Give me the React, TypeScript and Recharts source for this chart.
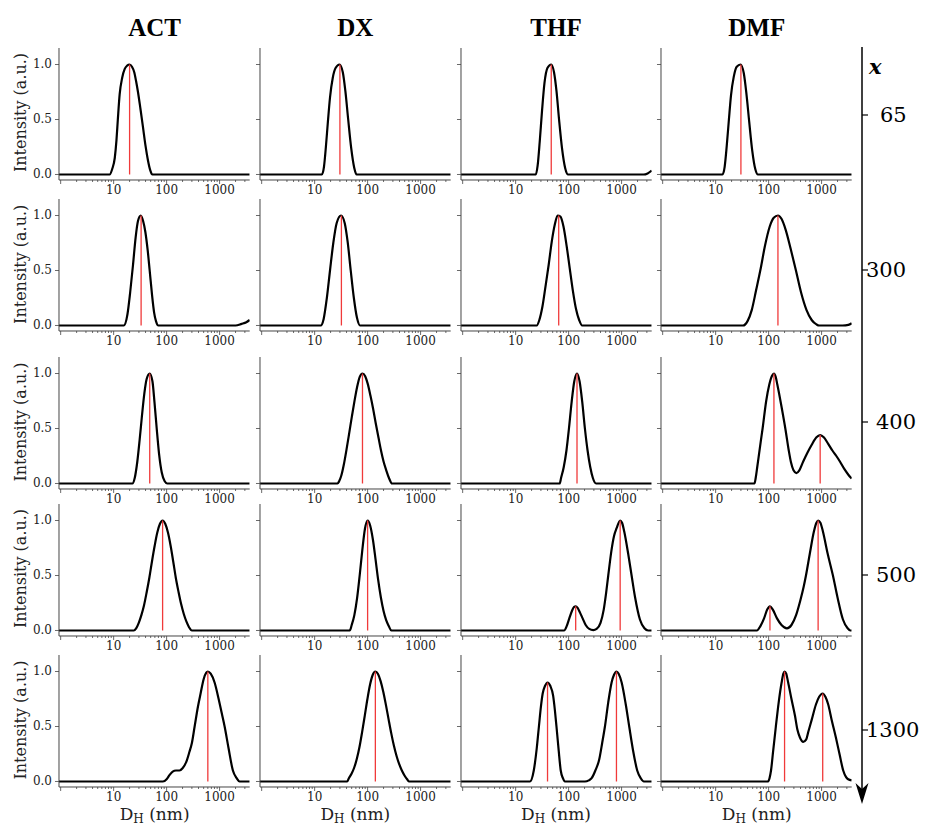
import React from "react"
import { LineChart, Line, XAxis, YAxis, ReferenceLine } from "recharts"

type Pt = [number, number]

const solvents = ["ACT", "DX", "THF", "DMF"]
const xLabels = ["65", "300", "400", "500", "1300"]
const xMajorTicks = [1, 10, 100, 1000]
const xLabelTicks = [10, 100, 1000]
const xMinorTicks = [2, 3, 4, 5, 6, 7, 8, 9, 20, 30, 40, 50, 60, 70, 80, 90, 200, 300, 400, 500, 600, 700, 800, 900, 2000, 3000]
const yTicks = [0, 0.5, 1]

// x = 65
const act65: Pt[] = [[0.93, 0], [8.4, 0], [9.4, 0.05], [10.5, 0.15], [11.3, 0.31], [12, 0.5], [13, 0.73], [14.5, 0.88], [16.2, 0.96], [18, 0.99], [20, 1], [22.2, 0.98], [24.5, 0.93], [26.5, 0.85], [28.8, 0.75], [32, 0.6], [35.8, 0.43], [40, 0.26], [44.4, 0.13], [49, 0.04], [53.8, 0], [3700, 0]]
const dx65: Pt[] = [[0.93, 0], [13.7, 0], [15, 0.07], [16.3, 0.25], [17.8, 0.48], [19.5, 0.7], [22, 0.88], [25, 0.97], [29.5, 1], [34, 0.93], [38, 0.76], [43, 0.5], [49, 0.24], [56, 0.06], [62, 0], [3700, 0]]
const thf65: Pt[] = [[0.93, 0], [24, 0], [26, 0.08], [28.5, 0.3], [31.5, 0.58], [35, 0.83], [40, 0.97], [47, 1], [53, 0.93], [59, 0.76], [66, 0.5], [75, 0.24], [86, 0.06], [98, 0], [2600, 0], [3100, 0.01], [3700, 0.035]]
const dmf65: Pt[] = [[0.93, 0], [13.5, 0], [14.8, 0.07], [16.2, 0.26], [17.8, 0.5], [19.5, 0.72], [22, 0.89], [25, 0.98], [29.5, 1], [34, 0.92], [38, 0.74], [43, 0.48], [49, 0.22], [56, 0.05], [63, 0], [3700, 0]]

// x = 300
const act300: Pt[] = [[0.93, 0], [15.5, 0], [18.2, 0.1], [20.5, 0.3], [23.2, 0.55], [26, 0.8], [28.8, 0.95], [32.5, 1], [36, 0.95], [39.7, 0.85], [44, 0.68], [47.9, 0.5], [53, 0.28], [58, 0.12], [63, 0.04], [70, 0], [2000, 0], [2600, 0.015], [3200, 0.03], [3700, 0.05]]
const dx300: Pt[] = [[0.93, 0], [13, 0], [14.8, 0.06], [17, 0.25], [19.5, 0.5], [22.5, 0.75], [26, 0.93], [31.5, 1], [37, 0.93], [42, 0.76], [48, 0.5], [55, 0.25], [63, 0.07], [72, 0], [3700, 0]]
const thf300: Pt[] = [[0.93, 0], [25, 0], [28, 0.05], [32, 0.17], [37, 0.37], [42, 0.55], [48, 0.76], [55, 0.92], [62, 1], [70, 0.99], [80, 0.9], [92, 0.72], [105, 0.52], [120, 0.32], [138, 0.15], [158, 0.05], [180, 0], [3700, 0]]
const dmf300: Pt[] = [[0.93, 0], [33, 0], [40, 0.04], [48, 0.14], [58, 0.32], [71, 0.52], [85, 0.72], [105, 0.9], [125, 0.98], [150, 1], [175, 0.97], [210, 0.87], [260, 0.7], [328, 0.5], [410, 0.3], [520, 0.14], [650, 0.05], [800, 0.01], [900, 0], [2500, 0], [3200, 0.006], [3700, 0.02]]

// x = 400
const act400: Pt[] = [[0.93, 0], [22.6, 0], [25, 0.05], [28, 0.2], [31, 0.4], [34, 0.6], [38, 0.82], [42, 0.95], [48, 1], [54, 0.93], [59, 0.74], [65, 0.5], [72, 0.27], [81, 0.1], [92, 0.02], [103, 0], [3700, 0]]
const dx400: Pt[] = [[0.93, 0], [27, 0], [29, 0.02], [31.8, 0.07], [35.5, 0.17], [40, 0.31], [45, 0.46], [50.5, 0.61], [57, 0.76], [63.5, 0.88], [71, 0.97], [80, 1], [90, 0.975], [100, 0.91], [113, 0.8], [127, 0.68], [142, 0.55], [160, 0.42], [179, 0.3], [200, 0.2], [225, 0.12], [253, 0.05], [290, 0], [3700, 0]]
const thf400: Pt[] = [[0.93, 0], [68, 0], [72, 0.05], [81, 0.15], [91, 0.3], [101.5, 0.5], [114, 0.74], [128, 0.93], [144, 1], [161, 0.93], [181, 0.74], [203, 0.5], [228, 0.3], [256, 0.15], [287, 0.05], [330, 0], [3700, 0]]
const dmf400: Pt[] = [[0.93, 0], [54, 0], [57, 0.05], [61, 0.15], [66, 0.27], [71, 0.38], [77, 0.5], [90, 0.75], [103, 0.9], [116, 0.98], [126, 1], [136, 0.97], [146, 0.9], [175, 0.7], [210, 0.48], [240, 0.3], [265, 0.19], [295, 0.12], [334, 0.095], [380, 0.12], [450, 0.2], [540, 0.28], [648, 0.35], [800, 0.42], [940, 0.44], [1100, 0.42], [1334, 0.36], [1600, 0.3], [1900, 0.25], [2218, 0.2], [2700, 0.13], [3200, 0.08], [3700, 0.045]]

// x = 500
const act500: Pt[] = [[0.93, 0], [24, 0], [26.6, 0.02], [29.8, 0.07], [33.4, 0.14], [37.5, 0.23], [42.1, 0.35], [47.2, 0.48], [53, 0.63], [59.5, 0.77], [66.7, 0.89], [74.9, 0.97], [84, 1], [94.2, 0.97], [106, 0.89], [119, 0.77], [133, 0.63], [149, 0.48], [168, 0.35], [188, 0.24], [211, 0.15], [237, 0.08], [265, 0.03], [300, 0], [3700, 0]]
const dx500: Pt[] = [[0.93, 0], [46, 0], [50.1, 0.05], [56.2, 0.14], [63.1, 0.29], [70.8, 0.5], [79.4, 0.73], [89.1, 0.925], [100, 1], [112, 0.953], [126, 0.825], [141, 0.648], [158, 0.462], [178, 0.3], [200, 0.177], [224, 0.094], [251, 0.04], [280, 0], [3700, 0]]
const thf500: Pt[] = [[0.93, 0], [82, 0], [92, 0.04], [103, 0.11], [116, 0.18], [127, 0.215], [136, 0.22], [148, 0.205], [165, 0.16], [184, 0.11], [210, 0.05], [245, 0.015], [292, 0.004], [338, 0.015], [400, 0.07], [460, 0.19], [510, 0.34], [560, 0.5], [640, 0.72], [720, 0.86], [805, 0.93], [940, 1], [1020, 0.98], [1122, 0.9], [1330, 0.7], [1545, 0.5], [1800, 0.3], [2218, 0.1], [2700, 0.02], [3176, 0], [3700, 0]]
const dmf500: Pt[] = [[0.93, 0], [60, 0], [70, 0.04], [82, 0.11], [94, 0.19], [106, 0.22], [120, 0.19], [144, 0.11], [175, 0.05], [222, 0.02], [270, 0.05], [330, 0.14], [400, 0.28], [460, 0.4], [507, 0.5], [600, 0.7], [716, 0.9], [800, 0.98], [860, 1], [950, 0.98], [1060, 0.9], [1300, 0.7], [1637, 0.5], [2000, 0.3], [2530, 0.1], [3100, 0.02], [3500, 0], [3700, 0]]

// x = 1300
const act1300: Pt[] = [[0.93, 0], [85, 0], [100, 0.02], [114, 0.06], [130, 0.09], [150, 0.1], [175, 0.1], [200, 0.12], [236, 0.18], [270, 0.27], [300, 0.35], [338, 0.5], [390, 0.68], [438, 0.8], [500, 0.93], [560, 0.99], [600, 1], [680, 0.98], [805, 0.9], [950, 0.76], [1100, 0.62], [1245, 0.5], [1480, 0.3], [1783, 0.1], [2100, 0.03], [2386, 0], [3700, 0]]
const dx1300: Pt[] = [[0.93, 0], [41, 0], [44.3, 0.03], [49.7, 0.07], [55.7, 0.125], [62.6, 0.206], [70.2, 0.313], [78.6, 0.447], [88.3, 0.597], [99, 0.748], [111, 0.879], [124.6, 0.968], [140, 1], [157, 0.977], [176, 0.913], [198, 0.814], [222, 0.694], [249, 0.565], [279, 0.44], [313, 0.327], [352, 0.232], [395, 0.157], [443, 0.1], [497, 0.055], [557, 0.02], [610, 0], [3700, 0]]
const thf1300: Pt[] = [[0.93, 0], [18.6, 0], [22, 0.1], [25, 0.3], [27.5, 0.5], [30, 0.68], [32.4, 0.8], [36, 0.87], [40, 0.9], [45, 0.87], [51, 0.78], [55, 0.65], [59, 0.5], [65, 0.28], [71, 0.1], [78, 0.03], [85, 0], [203, 0], [240, 0.01], [272, 0.03], [320, 0.1], [378, 0.2], [430, 0.35], [485, 0.5], [560, 0.72], [648, 0.9], [720, 0.97], [800, 1], [880, 0.98], [1003, 0.9], [1200, 0.7], [1393, 0.5], [1650, 0.28], [1972, 0.1], [2300, 0.03], [2635, 0], [3700, 0]]
const dmf1300: Pt[] = [[0.93, 0], [98, 0], [104, 0.03], [111, 0.1], [122, 0.28], [137, 0.5], [155, 0.72], [176, 0.9], [190, 0.98], [200, 1], [215, 0.98], [234, 0.9], [270, 0.75], [314, 0.6], [350, 0.47], [390, 0.4], [450, 0.36], [510, 0.38], [560, 0.45], [650, 0.56], [782, 0.7], [900, 0.77], [1050, 0.8], [1180, 0.77], [1334, 0.7], [1550, 0.56], [1862, 0.4], [2200, 0.24], [2560, 0.1], [2900, 0.04], [3176, 0.02], [3700, 0.01]]

// peak markers (red), per row: [diameter, height]
const peaks65: Pt[][] = [[[20, 1]], [[30, 1]], [[47, 1]], [[30, 1]]]
const peaks300: Pt[][] = [[[33, 1]], [[32, 1]], [[65, 1]], [[150, 1]]]
const peaks400: Pt[][] = [[[48, 1]], [[80, 1]], [[144, 1]], [[126, 1], [940, 0.44]]]
const peaks500: Pt[][] = [[[84, 1]], [[100, 1]], [[136, 0.22], [940, 1]], [[106, 0.22], [860, 1]]]
const peaks1300: Pt[][] = [[[600, 1]], [[140, 1]], [[40, 0.9], [800, 1]], [[200, 1], [1050, 0.8]]]

const curves = [
  [act65, dx65, thf65, dmf65],
  [act300, dx300, thf300, dmf300],
  [act400, dx400, thf400, dmf400],
  [act500, dx500, thf500, dmf500],
  [act1300, dx1300, thf1300, dmf1300],
]
const peaks = [peaks65, peaks300, peaks400, peaks500, peaks1300]

const colLeft = [59.3, 260, 460.7, 661.4]
const rowTop = [47.5, 199.3, 357, 503.5, 655]
const labelY = [115, 270, 422, 575, 730]
const labelX = [880, 866, 876, 876, 866]
const PLOT_W = 190.7
const PLOT_H = 132
const Y_AXIS_W = 50
const X_AXIS_H = 30
const M_TOP = 5
const M_RIGHT = 6
const FONT = "DejaVu Serif"
const xAllTicks = [...xMajorTicks, ...xMinorTicks].sort((a, b) => a - b)

function XTick(props: any) {
  const { x, y, payload } = props
  const v = payload.value
  const major = xMajorTicks.includes(v)
  return (
    <g>
      <line x1={x} x2={x} y1={y} y2={y + (major ? 4 : 2)} stroke="#444" strokeWidth={0.8} />
      {xLabelTicks.includes(v) && (
        <text x={x} y={y + 14} textAnchor="middle" fontSize={12} fontFamily={FONT} fill="#222">
          {v}
        </text>
      )}
    </g>
  )
}

function YTick(props: any) {
  const { x, y, payload, showLabel } = props
  return (
    <g>
      <line x1={x - 4} x2={x} y1={y} y2={y} stroke="#444" strokeWidth={0.8} />
      {showLabel && (
        <text x={x - 7} y={y} dy={4} textAnchor="end" fontSize={12} fontFamily={FONT} fill="#222">
          {payload.value.toFixed(1)}
        </text>
      )}
    </g>
  )
}

function Panel({ row, col }: { row: number; col: number }) {
  const data = curves[row][col].map(([x, y]) => ({ x, y }))
  return (
    <div style={{ position: "absolute", left: colLeft[col] - Y_AXIS_W, top: rowTop[row] - M_TOP }}>
      <LineChart
        width={Y_AXIS_W + PLOT_W + M_RIGHT}
        height={M_TOP + PLOT_H + X_AXIS_H}
        data={data}
        margin={{ top: M_TOP, right: M_RIGHT, bottom: 0, left: 0 }}
      >
        <XAxis
          dataKey="x"
          type="number"
          scale="log"
          domain={[0.93, 3700]}
          allowDataOverflow
          ticks={xAllTicks}
          interval={0}
          height={X_AXIS_H}
          tickSize={0}
          tickMargin={0}
          tickLine={false}
          stroke="#444"
          tick={(p: any) => <XTick {...p} />}
        />
        <YAxis
          type="number"
          domain={[-0.05, 1.15]}
          allowDataOverflow
          ticks={yTicks}
          interval={0}
          width={Y_AXIS_W}
          tickSize={0}
          tickMargin={0}
          tickLine={false}
          stroke="#444"
          tick={(p: any) => <YTick {...p} showLabel={col === 0} />}
        />
        <Line dataKey="y" type="monotone" stroke="#000" strokeWidth={2.2} dot={false} isAnimationActive={false} />
        {peaks[row][col].map(([x, h], i) => (
          <ReferenceLine key={i} segment={[{ x, y: 0 }, { x, y: h }]} stroke="#f03a3a" strokeWidth={1.3} />
        ))}
      </LineChart>
    </div>
  )
}

export default function App() {
  return (
    <div style={{ position: "absolute", left: 0, top: 0, width: 931, height: 825, background: "#fff" }}>
      {curves.map((r, ri) => r.map((_, ci) => <Panel key={`${ri}-${ci}`} row={ri} col={ci} />))}
      <svg width={931} height={825} style={{ position: "absolute", left: 0, top: 0, pointerEvents: "none" }}>
        {solvents.map((s, i) => (
          <text key={s} x={colLeft[i] + PLOT_W / 2} y={36} textAnchor="middle" fontSize={25} fontWeight="bold" fontFamily="Liberation Serif">
            {s}
          </text>
        ))}
        {rowTop.map((t, i) => (
          <text key={i} transform={`translate(20, ${t + 65}) rotate(-90)`} textAnchor="middle" dominantBaseline="central" fontSize={16} fontFamily={FONT} fill="#222">
            Intensity (a.u.)
          </text>
        ))}
        {colLeft.map((l, i) => (
          <text key={i} x={l + PLOT_W / 2} y={820} textAnchor="middle" fontSize={17} fontFamily={FONT} fill="#222">
            D<tspan fontSize={12} dy={3}>H</tspan>
            <tspan dy={-3}> (nm)</tspan>
          </text>
        ))}
        <line x1={862} x2={862} y1={47} y2={792} stroke="#000" strokeWidth={1.5} />
        <polygon points="862,804 855.5,783 862,789 868.5,783" fill="#000" />
        <text x={869} y={74} fontSize={21} fontStyle="italic" fontWeight="bold" fontFamily={FONT}>
          x
        </text>
        {xLabels.map((lab, i) => (
          <g key={lab}>
            <line x1={862} x2={868} y1={labelY[i]} y2={labelY[i]} stroke="#000" strokeWidth={1.2} />
            <text x={labelX[i]} y={labelY[i]} dominantBaseline="central" fontSize={21} fontFamily={FONT}>
              {lab}
            </text>
          </g>
        ))}
      </svg>
    </div>
  )
}
